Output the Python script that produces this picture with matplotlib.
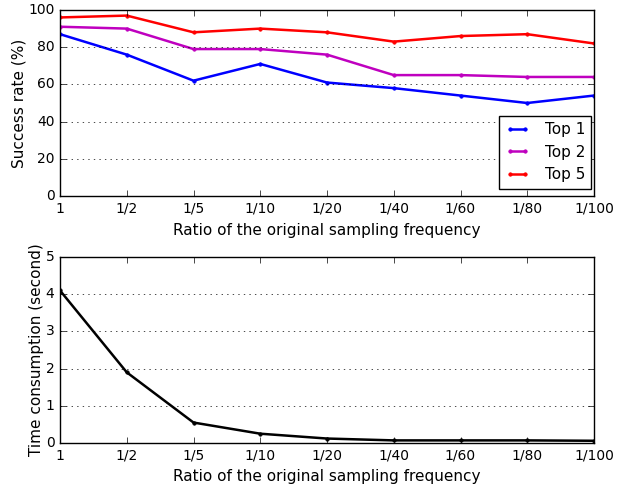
import matplotlib
matplotlib.use("Agg")
import matplotlib.pyplot as plt

ratios = ["1", "1/2", "1/5", "1/10", "1/20", "1/40", "1/60", "1/80", "1/100"]
top1 = [87, 76, 62, 71, 61, 58, 54, 50, 54]
top2 = [91, 90, 79, 79, 76, 65, 65, 64, 64]
top5 = [96, 97, 88, 90, 88, 83, 86, 87, 82]
time_cost = [4.1, 1.9, 0.55, 0.25, 0.12, 0.07, 0.07, 0.07, 0.06]

plt.style.use('classic')
fig = plt.figure(figsize=(6.26, 4.84), dpi=100)
fig.patch.set_facecolor('white')

x = list(range(len(ratios)))

ax1 = fig.add_axes([60/626, 1-196/484, 534/626, 186/484])
ax1.plot(x, top1, color='b', marker='.', markersize=5, lw=1.8, mec='b', label='Top 1')
ax1.plot(x, top2, color='m', marker='.', markersize=5, lw=1.8, mec='m', label='Top 2')
ax1.plot(x, top5, color='r', marker='.', markersize=5, lw=1.8, mec='r', label='Top 5')
ax1.set_xlim(0, len(ratios)-1)
ax1.set_ylim(0, 100)
ax1.set_xticks(x)
ax1.set_xticklabels(ratios)
ax1.yaxis.grid(True, linestyle=':', color='k')
ax1.set_xlabel('Ratio of the original sampling frequency', fontsize=11)
ax1.set_ylabel('Success rate (%)', fontsize=11, labelpad=1)
ax1.tick_params(labelsize=10)
leg = ax1.legend(loc='lower right', bbox_to_anchor=(0.995, 0.04), fontsize=11, numpoints=2,
                 borderaxespad=0, handlelength=1.6, handletextpad=1.0)
leg.get_frame().set_linewidth(1)

ax2 = fig.add_axes([60/626, 1-443/484, 534/626, 186/484])
ax2.plot(x, time_cost, color='k', marker='.', markersize=5, lw=1.8)
ax2.set_xlim(0, len(ratios)-1)
ax2.set_ylim(0, 5)
ax2.set_xticks(x)
ax2.set_xticklabels(ratios)
ax2.yaxis.grid(True, linestyle=':', color='k')
ax2.set_xlabel('Ratio of the original sampling frequency', fontsize=11)
ax2.set_ylabel('Time consumption (second)', fontsize=11, labelpad=1)
ax2.tick_params(labelsize=10)

plt.savefig("out.png", dpi=100, facecolor='white')
